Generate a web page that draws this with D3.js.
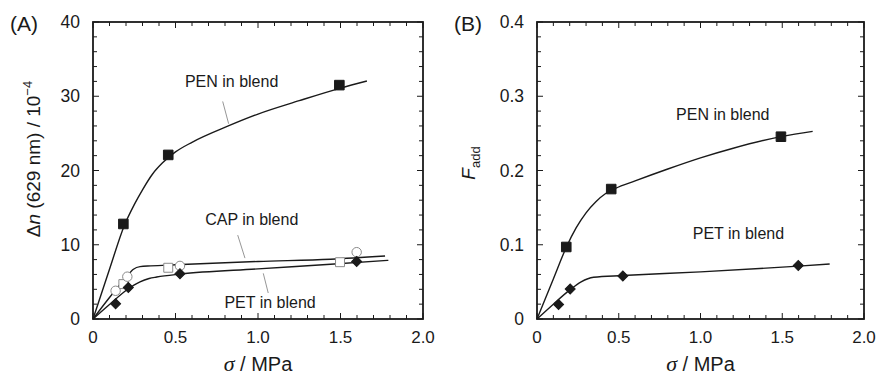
<!DOCTYPE html>
<html>
<head>
<meta charset="utf-8">
<script src="https://cdn.jsdelivr.net/npm/d3@7"></script>
<style>
  body { margin: 0; background: #fff; }
  svg { display: block; font-family: "Liberation Sans", Arial, sans-serif; }
</style>
</head>
<body>
<svg id="chart" width="878" height="375"></svg>
<script>
// x axis (stress) shared by both panels
const sigmaTicks = [0, 0.5, 1.0, 1.5, 2.0];

// panel A: birefringence
const dnTicks = [0, 10, 20, 30, 40];
const penA = [[0.184, 12.8], [0.456, 22.1], [1.493, 31.5]];
const capSquaresA = [[0.184, 4.7], [0.456, 6.9], [1.497, 7.65]];
const capCirclesA = [[0.137, 3.8], [0.208, 5.7], [0.527, 7.15], [1.598, 9.0]];
const petA = [[0.137, 2.05], [0.214, 4.25], [0.527, 6.1], [1.598, 7.75]];
const penFitA = [[0, 0], [0.1, 6.7], [0.19, 12.6], [0.25, 15.4], [0.3, 17.4], [0.36, 19.5], [0.42, 21.0], [0.5, 22.5], [0.6, 23.8], [0.82, 26.0], [1.0, 27.6], [1.25, 29.4], [1.5, 31.1], [1.66, 32.05]];
const capFitA = [[0, 0], [0.1, 2.9], [0.2, 5.6], [0.245, 6.7], [0.285, 7.05], [0.35, 7.15], [0.5, 7.3], [1.0, 7.75], [1.44, 8.05], [1.77, 8.48]];
const petFitA = [[0, 0], [0.1, 1.95], [0.204, 3.9], [0.285, 5.0], [0.34, 5.45], [0.386, 5.65], [0.53, 6.05], [1.0, 6.75], [1.44, 7.37], [1.79, 7.9]];

// panel B: additivity fraction
const fTicks = [0, 0.1, 0.2, 0.3, 0.4];
const penB = [[0.179, 0.097], [0.454, 0.175], [1.492, 0.2455]];
const petB = [[0.132, 0.0195], [0.203, 0.0405], [0.525, 0.058], [1.598, 0.072]];
const penFitB = [[0, 0], [0.1, 0.054], [0.18, 0.097], [0.24, 0.123], [0.3, 0.143], [0.36, 0.158], [0.42, 0.169], [0.48, 0.176], [0.6, 0.186], [0.8, 0.202], [1.0, 0.217], [1.2, 0.230], [1.5, 0.246], [1.686, 0.2527]];
const petFitB = [[0, 0], [0.1, 0.02], [0.203, 0.0395], [0.27, 0.05], [0.346, 0.0562], [0.525, 0.0585], [1.0, 0.0635], [1.4, 0.0685], [1.6, 0.0712], [1.79, 0.074]];

const svg = d3.select('#chart');
const ink = '#1a1a1a';

function panel(opts) {
  const x = d3.scaleLinear().domain([0, 2]).range(opts.xr);
  const y = d3.scaleLinear().domain([0, opts.ymax]).range([319, 22]);
  const g = svg.append('g');

  // minor + major ticks, inward, on four sides
  const xMinor = d3.range(0, 2.0001, 0.1);
  const yMinor = d3.range(0, opts.ymax * 1.0001, opts.ymax / 20);
  const isMajX = v => Math.abs(v * 2 - Math.round(v * 2)) < 1e-6;
  const isMajY = v => Math.abs(v / (opts.ymax / 4) - Math.round(v / (opts.ymax / 4))) < 1e-6;

  const tk = g.append('g').attr('stroke', ink).attr('stroke-width', 1);
  xMinor.forEach(v => {
    const L = isMajX(v) ? 6 : 4;
    tk.append('line').attr('x1', x(v)).attr('x2', x(v)).attr('y1', y(0)).attr('y2', y(0) - L);
    tk.append('line').attr('x1', x(v)).attr('x2', x(v)).attr('y1', y(opts.ymax)).attr('y2', y(opts.ymax) + L);
  });
  yMinor.forEach(v => {
    const L = isMajY(v) ? 6 : 4;
    tk.append('line').attr('y1', y(v)).attr('y2', y(v)).attr('x1', x(0)).attr('x2', x(0) + L);
    tk.append('line').attr('y1', y(v)).attr('y2', y(v)).attr('x1', x(2)).attr('x2', x(2) - L);
  });

  // tick labels
  g.selectAll('.xl').data(sigmaTicks).join('text')
    .attr('x', d => x(d)).attr('y', 343)
    .attr('text-anchor', 'middle').attr('font-size', 17).attr('fill', ink)
    .text(d => d === 0 ? '0' : d3.format('.1f')(d));
  g.selectAll('.yl').data(opts.yticks).join('text')
    .attr('x', x(0) - 13).attr('y', d => y(d)).attr('dy', '0.35em')
    .attr('text-anchor', 'end').attr('font-size', 17.5).attr('fill', ink)
    .text(d => d === 0 ? '0' : opts.yfmt(d));

  // fits
  const line = d3.line().x(d => x(d[0])).y(d => y(d[1])).curve(d3.curveMonotoneX);
  opts.fits.forEach(f => {
    g.append('path').attr('d', line(f)).attr('fill', 'none')
      .attr('stroke', ink).attr('stroke-width', 1.4);
  });

  // markers
  const sym = (type, size) => d3.symbol().type(type).size(size)();
  opts.marks.forEach(m => {
    g.selectAll(null).data(m.data).join('path')
      .attr('d', m.kind === 'circle' ? sym(d3.symbolCircle, 70) : sym(d3.symbolSquare, m.kind === 'diamond' ? 50 : (m.open ? 80 : 92)))
      .attr('transform', d => `translate(${x(d[0])},${y(d[1])})` + (m.kind === 'diamond' ? ' rotate(45)' : ''))
      .attr('fill', m.open ? '#fff' : ink)
      .attr('stroke', m.open ? '#8a8a8a' : ink)
      .attr('stroke-width', 1);
  });

  // annotations
  opts.notes.forEach(n => {
    g.append('text').attr('x', x(n.x)).attr('y', y(n.y))
      .attr('text-anchor', 'middle').attr('font-size', 16).attr('fill', ink).text(n.text);
    if (n.lead) {
      g.append('line').attr('x1', x(n.lead[0])).attr('y1', y(n.lead[1]))
        .attr('x2', x(n.lead[2])).attr('y2', y(n.lead[3]))
        .attr('stroke', '#8a8a8a').attr('stroke-width', 0.9);
    }
  });

  // frame
  g.append('rect').attr('x', x(0)).attr('y', y(opts.ymax))
    .attr('width', x(2) - x(0)).attr('height', y(0) - y(opts.ymax))
    .attr('fill', 'none').attr('stroke', ink).attr('stroke-width', 1.8);

  // x title
  const xt = g.append('text').attr('x', (x(0) + x(2)) / 2).attr('y', 371)
    .attr('text-anchor', 'middle').attr('font-size', 20).attr('fill', ink);
  xt.append('tspan').attr('font-style', 'italic').attr('font-family', '"Liberation Serif", serif').attr('font-size', 22).text('σ');
  xt.append('tspan').text(' / MPa');

  // panel letter
  g.append('text').attr('x', opts.letterX).attr('y', 31)
    .attr('font-size', 21).attr('fill', ink).text(opts.letter);

  return g;
}

const gA = panel({
  xr: [93, 423], ymax: 40, yticks: dnTicks, yfmt: d3.format('d'),
  fits: [penFitA, capFitA, petFitA],
  marks: [
    { data: capSquaresA, kind: 'square', open: true },
    { data: capCirclesA, kind: 'circle', open: true },
    { data: petA, kind: 'diamond' },
    { data: penA, kind: 'square' }
  ],
  notes: [
    { text: 'PEN in blend', x: 0.84, y: 31.2, lead: [0.786, 29.3, 0.822, 26.3] },
    { text: 'CAP in blend', x: 0.962, y: 12.6, lead: [0.877, 11.3, 0.921, 8.2] },
    { text: 'PET in blend', x: 1.073, y: 1.5, lead: [1.032, 6.15, 1.062, 3.5] }
  ],
  letter: '(A)', letterX: 10
});

const gB = panel({
  xr: [537, 864], ymax: 0.4, yticks: fTicks, yfmt: d3.format('.1f'),
  fits: [penFitB, petFitB],
  marks: [
    { data: petB, kind: 'diamond' },
    { data: penB, kind: 'square' }
  ],
  notes: [
    { text: 'PEN in blend', x: 1.136, y: 0.268 },
    { text: 'PET in blend', x: 1.232, y: 0.108 }
  ],
  letter: '(B)', letterX: 454
});

// y titles
const ytA = gA.append('text').attr('transform', 'translate(40,159) rotate(-90)')
  .attr('text-anchor', 'middle').attr('font-size', 19).attr('fill', ink);
ytA.append('tspan').text('Δ');
ytA.append('tspan').attr('font-style', 'italic').text('n');
ytA.append('tspan').text(' (629 nm) / 10');
ytA.append('tspan').attr('font-size', 13).attr('dy', -8).text('−4');

const ytB = gB.append('text').attr('transform', 'translate(475,163) rotate(-90)')
  .attr('text-anchor', 'middle').attr('font-size', 19).attr('fill', ink);
ytB.append('tspan').attr('font-style', 'italic').text('F');
ytB.append('tspan').attr('font-size', 13).attr('dy', 5).text('add');
</script>
</body>
</html>
